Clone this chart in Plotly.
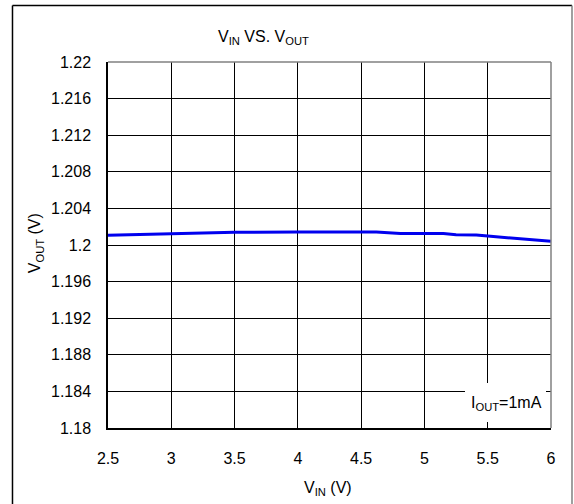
import plotly.graph_objects as go

# Data
vin = [2.5, 3.0, 3.5, 4.0, 4.5, 4.62, 4.81, 5.0, 5.15, 5.25, 5.41, 5.5, 6.0]
vout = [1.20106, 1.20124, 1.20139, 1.20142, 1.20142, 1.20142, 1.20125, 1.20125, 1.20125, 1.20112, 1.20110, 1.20098, 1.20040]

x_ticks = [2.5, 3, 3.5, 4, 4.5, 5, 5.5, 6]
x_ticktext = ["2.5", "3", "3.5", "4", "4.5", "5", "5.5", "6"]
y_ticks = [1.18, 1.184, 1.188, 1.192, 1.196, 1.2, 1.204, 1.208, 1.212, 1.216, 1.22]
y_ticktext = ["1.18", "1.184", "1.188", "1.192", "1.196", "1.2", "1.204", "1.208", "1.212", "1.216", "1.22"]

FONT = "Liberation Sans, Arial, sans-serif"

fig = go.Figure()
fig.add_trace(go.Scatter(x=vin, y=vout, mode="lines",
                         line=dict(color="#0000EE", width=3), showlegend=False))

fig.update_layout(
    width=574, height=504,
    margin=dict(l=108, r=23, t=62, b=76),
    paper_bgcolor="white", plot_bgcolor="white",
    font=dict(family=FONT, size=16, color="black"),
    xaxis=dict(range=[2.5, 6], tickvals=x_ticks, ticktext=x_ticktext,
               showgrid=True, gridcolor="black", gridwidth=1,
               showline=True, linecolor="black", linewidth=1.5,
               zeroline=False, ticks="", ticklabelstandoff=15,
               tickfont=dict(size=16)),
    yaxis=dict(range=[1.18, 1.22], tickvals=y_ticks, ticktext=y_ticktext,
               showgrid=True, gridcolor="black", gridwidth=1,
               showline=True, linecolor="black", linewidth=1.5,
               zeroline=False, ticks="", ticklabelstandoff=12,
               tickfont=dict(size=16)),
)

shapes = [
    # annotation box background
    dict(type="rect", xref="x", yref="y", x0=5.3205, x1=5.9605, y0=1.180656, y1=1.18492,
         fillcolor="white", line=dict(width=0), layer="above"),
    # gray top/right plot border
    dict(type="line", xref="paper", yref="paper", x0=0, x1=1, y0=1, y1=1,
         line=dict(color="#808080", width=1.5), layer="above"),
    dict(type="line", xref="paper", yref="paper", x0=1, x1=1, y0=0, y1=1,
         line=dict(color="#808080", width=1.5), layer="above"),
    # outer frame
    dict(type="line", xref="paper", yref="paper", x0=-0.2156, x1=-0.2156, y0=-0.25, y1=1.1544,
         line=dict(color="black", width=1.5)),
    dict(type="line", xref="paper", yref="paper", x0=-0.2156, x1=1.0474, y0=1.1544, y1=1.1544,
         line=dict(color="black", width=1.5)),
    dict(type="line", xref="paper", yref="paper", x0=1.0474, x1=1.0474, y0=-0.25, y1=1.1544,
         line=dict(color="#808080", width=1.5)),
]
fig.update_layout(shapes=shapes)

annotations = [
    dict(text="V<sub>IN</sub> VS. V<sub>OUT</sub>", xref="paper", yref="paper",
         x=0.35, y=1.0656, showarrow=False, xanchor="center", yanchor="middle",
         font=dict(size=16)),
    dict(text="V<sub>IN</sub> (V)", xref="paper", yref="paper",
         x=0.4966, y=-0.164, showarrow=False, xanchor="center", yanchor="middle",
         font=dict(size=16)),
    dict(text="V<sub>OUT</sub> (V)", xref="paper", yref="paper",
         x=-0.162, y=0.5055, showarrow=False, xanchor="center", yanchor="middle",
         textangle=-90, font=dict(size=16)),
    dict(text="I<sub>OUT</sub>=1mA", xref="x", yref="y",
         x=5.6445, y=1.18273, showarrow=False, xanchor="center", yanchor="middle",
         font=dict(size=16)),
]
fig.update_layout(annotations=annotations)

fig.write_html("out.html")
